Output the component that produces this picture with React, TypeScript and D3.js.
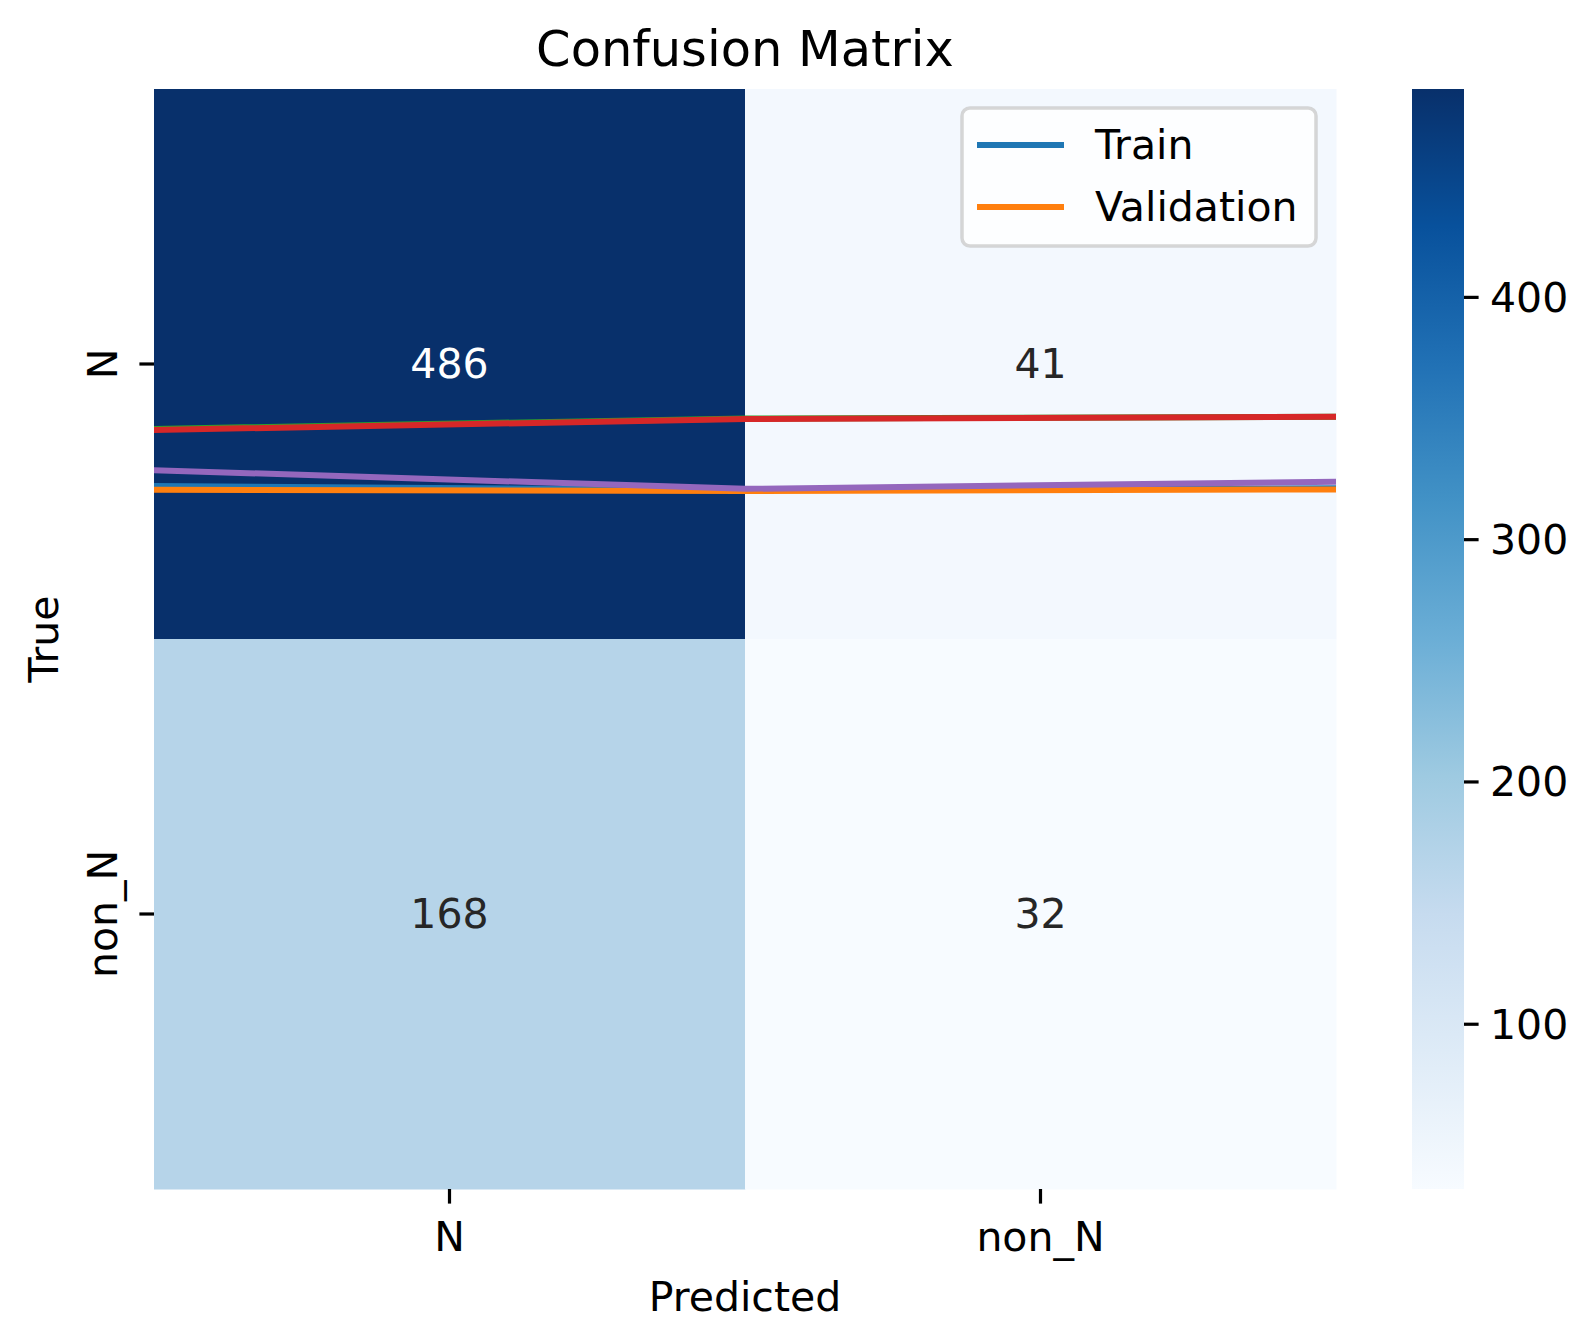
import React from "react";
import * as d3 from "d3";

// ---- data ----
const rowLabels = ["N", "non_N"];
const colLabels = ["N", "non_N"];
const matrixValues = [
  [486, 41],
  [168, 32],
];
const lineX = [0, 1, 2];
const trainLine = [0.722, 0.729, 0.726];
const validationLine = [0.7285, 0.731, 0.728];
const greenLine = [0.618, 0.599, 0.596];
const redLine = [0.62, 0.6, 0.596];
const purpleLine = [0.693, 0.727, 0.714];
const colorbarTicks = [100, 200, 300, 400];
const legendLabels = ["Train", "Validation"];

const BLUES = [
  "#f7fbff", "#deebf7", "#c6dbef", "#9ecae1", "#6baed6",
  "#4292c6", "#2171b5", "#08519c", "#08306b",
];

const W = 1587;
const H = 1334;
const FONT = "DejaVu Sans";
const FS = 41;

export default function App() {
  const left = 154, right = 1336, top = 89, bottom = 1189;
  const allVals = matrixValues.flat();
  const vmin = d3.min(allVals) as number;
  const vmax = d3.max(allVals) as number;

  const x = d3.scaleBand<string>().domain(colLabels).range([left, right]);
  const y = d3.scaleBand<string>().domain(rowLabels).range([top, bottom]);
  const xl = d3.scaleLinear().domain([0, 2]).range([left, right]);
  const yl = d3.scaleLinear().domain([0, 2]).range([top, bottom]);

  const stops = BLUES.map((_, i) => vmin + ((vmax - vmin) * i) / (BLUES.length - 1));
  const color = d3
    .scaleLinear<string>()
    .domain(stops)
    .range(BLUES)
    .interpolate(d3.interpolateRgb)
    .clamp(true);

  const cbLeft = 1412, cbRight = 1464;
  const cb = d3.scaleLinear().domain([vmin, vmax]).range([bottom, top]);

  const lineGen = d3
    .line<number>()
    .x((_, i) => xl(lineX[i]))
    .y((d) => yl(d));

  const series = [
    { data: trainLine, color: "#1f77b4" },
    { data: validationLine, color: "#ff7f0e" },
    { data: greenLine, color: "#2ca02c" },
    { data: redLine, color: "#d62728" },
    { data: purpleLine, color: "#9467bd" },
  ];

  const lum = (c: string) => {
    const r = d3.rgb(c);
    const f = (v: number) => {
      v /= 255;
      return v <= 0.03928 ? v / 12.92 : Math.pow((v + 0.055) / 1.055, 2.4);
    };
    return 0.2126 * f(r.r) + 0.7152 * f(r.g) + 0.0722 * f(r.b);
  };

  return (
    <svg
      width={W}
      height={H}
      style={{ position: "absolute", left: 0, top: 0, display: "block", background: "#fff" }}
      fontFamily={FONT}
    >
      <defs>
        <clipPath id="axclip">
          <rect x={left} y={top} width={right - left} height={bottom - top} />
        </clipPath>
        <linearGradient id="cbgrad" x1="0" y1="1" x2="0" y2="0">
          {BLUES.map((c, i) => (
            <stop key={i} offset={`${(i / (BLUES.length - 1)) * 100}%`} stopColor={c} />
          ))}
        </linearGradient>
      </defs>
      <rect x={0} y={0} width={W} height={H} fill="#fff" />

      {/* title */}
      <text x={(left + right) / 2} y={66} fontSize={49.5} textAnchor="middle" fill="#000">
        Confusion Matrix
      </text>

      {/* heatmap cells */}
      {matrixValues.map((row, ri) =>
        row.map((v, ci) => (
          <rect
            key={`c${ri}${ci}`}
            x={x(colLabels[ci])}
            y={y(rowLabels[ri])}
            width={x.bandwidth() + 0.5}
            height={y.bandwidth() + 0.5}
            fill={color(v)}
          />
        ))
      )}

      {/* annotations */}
      {matrixValues.map((row, ri) =>
        row.map((v, ci) => (
          <text
            key={`t${ri}${ci}`}
            x={(x(colLabels[ci]) as number) + x.bandwidth() / 2}
            y={(y(rowLabels[ri]) as number) + y.bandwidth() / 2 + 14}
            fontSize={FS}
            textAnchor="middle"
            fill={lum(color(v)) < 0.408 ? "#ffffff" : "#262626"}
          >
            {v}
          </text>
        ))
      )}

      {/* lines */}
      <g clipPath="url(#axclip)">
        {series.map((s, i) => (
          <path
            key={i}
            d={lineGen(s.data) as string}
            fill="none"
            stroke={s.color}
            strokeWidth={6}
            strokeLinejoin="round"
            strokeLinecap="square"
          />
        ))}
      </g>

      {/* x ticks */}
      {colLabels.map((c) => {
        const cx = (x(c) as number) + x.bandwidth() / 2;
        return (
          <g key={`xt${c}`}>
            <line x1={cx} x2={cx} y1={bottom} y2={bottom + 14.6} stroke="#000" strokeWidth={3.2} />
            <text x={cx} y={1251} fontSize={FS} textAnchor="middle" fill="#000">
              {c}
            </text>
          </g>
        );
      })}

      {/* y ticks */}
      {rowLabels.map((r) => {
        const cy = (y(r) as number) + y.bandwidth() / 2;
        return (
          <g key={`yt${r}`}>
            <line x1={left - 14.6} x2={left} y1={cy} y2={cy} stroke="#000" strokeWidth={3.2} />
            <text
              transform={`translate(117,${cy}) rotate(-90)`}
              fontSize={FS}
              textAnchor="middle"
              fill="#000"
            >
              {r}
            </text>
          </g>
        );
      })}

      {/* axis labels */}
      <text x={(left + right) / 2} y={1311} fontSize={FS} textAnchor="middle" fill="#000">
        Predicted
      </text>
      <text
        transform={`translate(58,${(top + bottom) / 2}) rotate(-90)`}
        fontSize={FS}
        textAnchor="middle"
        fill="#000"
      >
        True
      </text>

      {/* legend */}
      <g>
        <rect
          x={962}
          y={108}
          width={354}
          height={138}
          rx={8}
          ry={8}
          fill="#ffffff"
          fillOpacity={0.8}
          stroke="#cccccc"
          strokeOpacity={0.8}
          strokeWidth={3.5}
        />
        {legendLabels.map((l, i) => {
          const ly = 145 + i * 62;
          return (
            <g key={l}>
              <line x1={977} x2={1064} y1={ly} y2={ly} stroke={series[i].color} strokeWidth={6} />
              <text x={1095} y={ly + 14} fontSize={FS} fill="#000">
                {l}
              </text>
            </g>
          );
        })}
      </g>

      {/* colorbar */}
      <rect x={cbLeft} y={top} width={cbRight - cbLeft} height={bottom - top} fill="url(#cbgrad)" />
      {colorbarTicks.map((t) => (
        <g key={`cb${t}`}>
          <line x1={cbRight} x2={cbRight + 14.6} y1={cb(t)} y2={cb(t)} stroke="#000" strokeWidth={3.2} />
          <text x={cbRight + 26} y={cb(t) + 14.5} fontSize={FS} fill="#000">
            {t}
          </text>
        </g>
      ))}
    </svg>
  );
}
